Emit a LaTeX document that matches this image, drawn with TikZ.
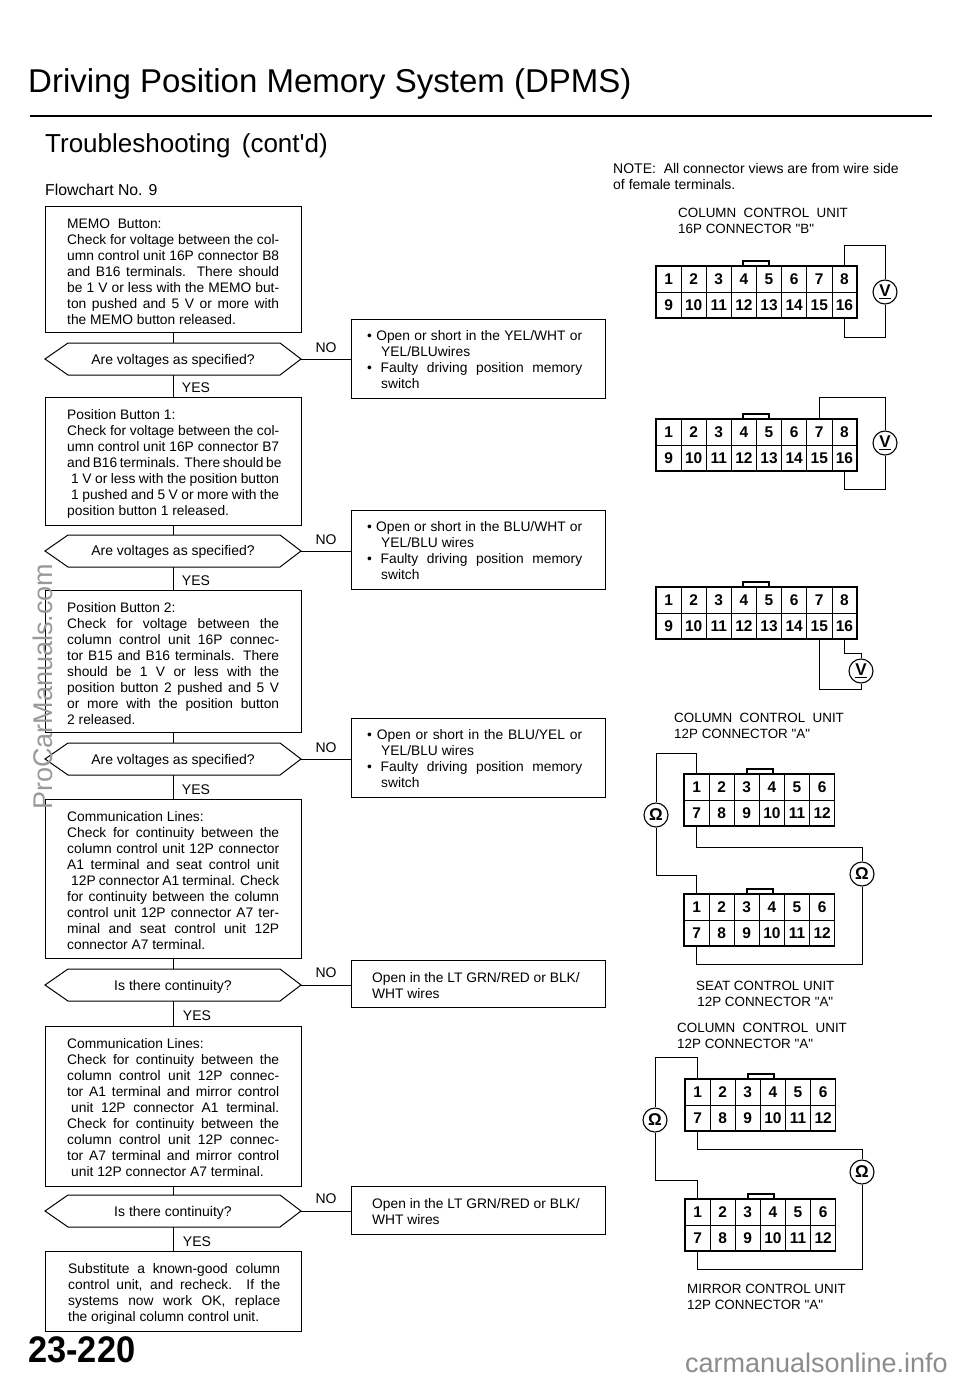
\documentclass[tikz,border=0pt]{standalone}
\usepackage{fontspec}
\setmainfont{Liberation Sans}[Ligatures=TeXOff]
\tikzset{
 ask/.style={draw,line width=1pt},
 wire/.style={line width=1pt},
 link/.style={line width=0.9pt},
 cell/.style={draw,line width=0.6pt,minimum width=25.12pt,minimum height=26pt,inner sep=0pt,font=\fontsize{15.5}{15.5}\selectfont\bfseries},
 meter/.style={draw,circle,line width=1.1pt,minimum size=24pt,inner sep=0pt,fill=white,font=\fontsize{17}{17}\selectfont\bfseries},
 lbl/.style={inner sep=0pt,font=\fontsize{14}{15}\selectfont},
 captext/.style={inner sep=0pt,align=left,anchor=north west,font=\fontsize{13.4}{16}\selectfont},
 body/.style={inner sep=0pt,align=left,anchor=north west,font=\fontsize{13.8}{16}\selectfont},
}
\newcommand{\jl}[1]{\makebox[212pt][s]{#1}}
\newcommand{\conn}[4]{% name, left, top, cols
 \pgfmathsetmacro{\connw}{#4*25.12}
 \foreach \i in {1,...,#4}{
  \pgfmathtruncatemacro{\j}{\i+#4}
  \node[cell] (#1-\i) at ({#2+(\i-0.5)*25.12},{#3+13}) {\i};
  \node[cell] (#1-\j) at ({#2+(\i-0.5)*25.12},{#3+39}) {\j};
 }
 \draw[line width=1.5pt] (#2,#3) rectangle ({#2+\connw},{#3+52});
}
\newcommand{\asknode}[2]{% name, y mid
 \draw[ask,fill=white] (45,#2) -- (68,#2-16) -- (280,#2-16) -- (301,#2) -- (280,#2+16) -- (68,#2+16) -- cycle;
 \coordinate (#1r) at (301,#2);
}
\begin{document}
\begin{tikzpicture}[x=1pt,y=-1pt]
\useasboundingbox (0,0) rectangle (960,1377);
\fill[white] (0,0) rectangle (960,1377);

\node[inner sep=0pt,anchor=base west] (title) at (28,92) {\fontsize{33}{33}\selectfont Driving Position Memory System (DPMS)};
\draw[line width=2.6pt] (30,116) -- (932,116);
\node[inner sep=0pt,anchor=base west] (sub) at (45,152) {\fontsize{26}{26}\selectfont Troubleshooting\hspace{4pt} (cont'd)};
\node[inner sep=0pt,anchor=base west] (fc) at (45,195) {\fontsize{15.8}{16}\selectfont Flowchart No. 9};

\draw[line width=1pt] (173,332) -- (173,343) (173,375) -- (173,397)
 (173,525) -- (173,535) (173,567) -- (173,590)
 (173,732) -- (173,743) (173,775) -- (173,799)
 (173,958) -- (173,969) (173,1001) -- (173,1026)
 (173,1186) -- (173,1195) (173,1227) -- (173,1251);
\draw[line width=1pt] (45,206) rectangle (301,332);
\draw[line width=1pt] (45,397) rectangle (301,525);
\draw[line width=1pt] (45,590) rectangle (301,732);
\draw[line width=1pt] (45,799) rectangle (301,958);
\draw[line width=1pt] (45,1026) rectangle (301,1186);
\draw[line width=1pt] (45,1251) rectangle (301,1331);
\draw[line width=1pt] (351,319) rectangle (605,398);
\draw[line width=1pt] (351,510) rectangle (605,589);
\draw[line width=1pt] (351,718) rectangle (605,797);
\draw[line width=1pt] (351,960) rectangle (605,1007);
\draw[line width=1pt] (351,1186) rectangle (605,1234);

\asknode{d1}{359}\asknode{d2}{551}\asknode{d3}{759}\asknode{d4}{985}\asknode{d5}{1211}
\coordinate (r1) at (351,359);\coordinate (r2) at (351,551);\coordinate (r3) at (351,759);\coordinate (r4) at (351,985);\coordinate (r5) at (351,1211);
\foreach \k in {1,...,5}{\draw[link] (d\k r) -- (r\k);}

\node[lbl] (q1) at (173,361) {Are voltages as specified?};
\node[lbl] (q2) at (173,552) {Are voltages as specified?};
\node[lbl] (q3) at (173,761) {Are voltages as specified?};
\node[lbl] (q4) at (173,987) {Is there continuity?};
\node[lbl] (q5) at (173,1213) {Is there continuity?};
\node[lbl] (y1) at (196,387.5) {YES};
\node[lbl] (y2) at (196,580.5) {YES};
\node[lbl] (y3) at (196,789.5) {YES};
\node[lbl] (y4) at (197,1015.5) {YES};
\node[lbl] (y5) at (197,1241.5) {YES};
\node[lbl] (n1) at (326,347.5) {NO};
\node[lbl] (n2) at (326,539.5) {NO};
\node[lbl] (n3) at (326,747.5) {NO};
\node[lbl] (n4) at (326,972.5) {NO};
\node[lbl] (n5) at (326,1198.5) {NO};

\node[body] (t1) at (67,218.5) {MEMO\ \ Button:\\\jl{Check for voltage between the col-}\\\jl{umn control unit 16P connector B8}\\\jl{and B16 terminals. There should}\\\jl{be 1 V or less with the MEMO but-}\\\jl{ton pushed and 5 V or more with}\\the MEMO button released.};
\node[body] (t2) at (67,409.5) {Position Button 1:\\\jl{Check for voltage between the col-}\\\jl{umn control unit 16P connector B7}\\\jl{and B16 terminals. There should be}\\\hspace{4pt}\makebox[208pt][s]{1 V or less with the position button}\\\hspace{4pt}\makebox[208pt][s]{1 pushed and 5 V or more with the}\\position button 1 released.};
\node[body] (t3) at (67,602.5) {Position Button 2:\\\jl{Check for voltage between the}\\\jl{column control unit 16P connec-}\\\jl{tor B15 and B16 terminals. There}\\\jl{should be 1 V or less with the}\\\jl{position button 2 pushed and 5 V}\\\jl{or more with the position button}\\2 released.};
\node[body] (t4) at (67,811.5) {Communication Lines:\\\jl{Check for continuity between the}\\\jl{column control unit 12P connector}\\\jl{A1 terminal and seat control unit}\\\hspace{4pt}\makebox[208pt][s]{12P connector A1 terminal. Check}\\\jl{for continuity between the column}\\\jl{control unit 12P connector A7 ter-}\\\jl{minal and seat control unit 12P}\\connector A7 terminal.};
\node[body] (t5) at (67,1038.5) {Communication Lines:\\\jl{Check for continuity between the}\\\jl{column control unit 12P connec-}\\\jl{tor A1 terminal and mirror control}\\\hspace{4pt}\makebox[208pt][s]{unit 12P connector A1 terminal.}\\\jl{Check for continuity between the}\\\jl{column control unit 12P connec-}\\\jl{tor A7 terminal and mirror control}\\\hspace{4pt}unit 12P connector A7 terminal.};
\node[body] (t6) at (68,1263.5) {\jl{Substitute a known-good column}\\\jl{control unit, and recheck. If the}\\\jl{systems now work OK, replace}\\the original column control unit.};

\node[body] (a1) at (367,330.5) {\makebox[215pt][s]{• Open or short in the YEL/WHT or}\\\hspace{14pt}YEL/BLUwires\\\makebox[215pt][s]{• Faulty driving position memory}\\\hspace{14pt}switch};
\node[body] (a2) at (367,521.5) {\makebox[215pt][s]{• Open or short in the BLU/WHT or}\\\hspace{14pt}YEL/BLU wires\\\makebox[215pt][s]{• Faulty driving position memory}\\\hspace{14pt}switch};
\node[body] (a3) at (367,729.5) {\makebox[215pt][s]{• Open or short in the BLU/YEL or}\\\hspace{14pt}YEL/BLU wires\\\makebox[215pt][s]{• Faulty driving position memory}\\\hspace{14pt}switch};
\node[body] (a4) at (372,972) {Open in the LT GRN/RED or BLK/\\WHT wires};
\node[body] (a5) at (372,1198) {Open in the LT GRN/RED or BLK/\\WHT wires};

\node[captext,font=\fontsize{14}{16}\selectfont] (note) at (613,163) {NOTE:\ \ All connector views are from wire side\\of female terminals.};
\node[captext] (h1) at (678,208) {COLUMN\ \ CONTROL\ \ UNIT\\16P CONNECTOR "B"};
\node[captext] (h2) at (674,713) {COLUMN\ \ CONTROL\ \ UNIT\\12P CONNECTOR "A"};
\node[captext,align=center] (h3) at (696,981) {SEAT CONTROL UNIT\\12P CONNECTOR "A"};
\node[captext] (h4) at (677,1023) {COLUMN\ \ CONTROL\ \ UNIT\\12P CONNECTOR "A"};
\node[captext] (h5) at (687,1284) {MIRROR CONTROL UNIT\\12P CONNECTOR "A"};

\conn{A}{656}{266}{8}
\conn{B}{656}{419}{8}
\conn{C}{656}{587}{8}
\conn{D}{684}{774}{6}
\conn{E}{684}{894}{6}
\conn{F}{685}{1079}{6}
\conn{G}{685}{1199}{6}
\foreach \x/\y in {743/261,743/414,743/582,747/769,747/889,748/1074,748/1194}{
 \draw[line width=1.1pt] (\x,\y+5) -- (\x,\y) -- (\x+26,\y) -- (\x+26,\y+5);
}
\node[meter] (mA) at (885,292) {\underline{V}};
\node[meter] (mB) at (885,443) {\underline{V}};
\node[meter] (mC) at (861,671) {\underline{V}};
\node[meter] (mD) at (656,815) {Ω};
\node[meter] (mE) at (862,874) {Ω};
\node[meter] (mF) at (655,1120) {Ω};
\node[meter] (mG) at (862,1172) {Ω};
\draw[wire] (A-8.north) -- ++(0,-20) -| (mA.north);
\draw[wire] (mA.south) |- (A-16.south |- 0,337) -- (A-16.south);
\draw[wire] (B-7.north) -- ++(0,-21) -| (mB.north);
\draw[wire] (mB.south) |- (B-16.south |- 0,489) -- (B-16.south);
\draw[wire] (C-15.south) -- ++(0,50) -| (mC.south);
\draw[wire] (C-16.south) -- ++(0,14) -| (mC.north);
\draw[wire] (D-1.north) -- ++(0,-20) -| (mD.north);
\draw[wire] (mD.south) |- (E-1.north |- 0,875) -- (E-1.north);
\draw[wire] (D-7.south) -- ++(0,21) -| (mE.north);
\draw[wire] (mE.south) |- (E-7.south |- 0,964) -- (E-7.south);
\draw[wire] (F-1.north) -- ++(0,-21) -| (mF.north);
\draw[wire] (mF.south) |- (G-1.north |- 0,1180) -- (G-1.north);
\draw[wire] (F-7.south) -- ++(0,18) -| (mG.north);
\draw[wire] (mG.south) |- (G-7.south |- 0,1269) -- (G-7.south);

\node[inner sep=0pt,anchor=base west,xscale=0.93] (pg) at (28,1362) {\fontsize{37}{37}\selectfont\bfseries 23-220};
\node[inner sep=0pt,anchor=base east,text=black!45] (wm2) at (948,1372) {\fontsize{27}{27}\selectfont carmanualsonline.info};
\node[inner sep=0pt,anchor=base west,rotate=90,text=black!40] (wm1) at (52,810) {\fontsize{27}{27}\selectfont ProCarManuals.com};
\end{tikzpicture}
\end{document}
